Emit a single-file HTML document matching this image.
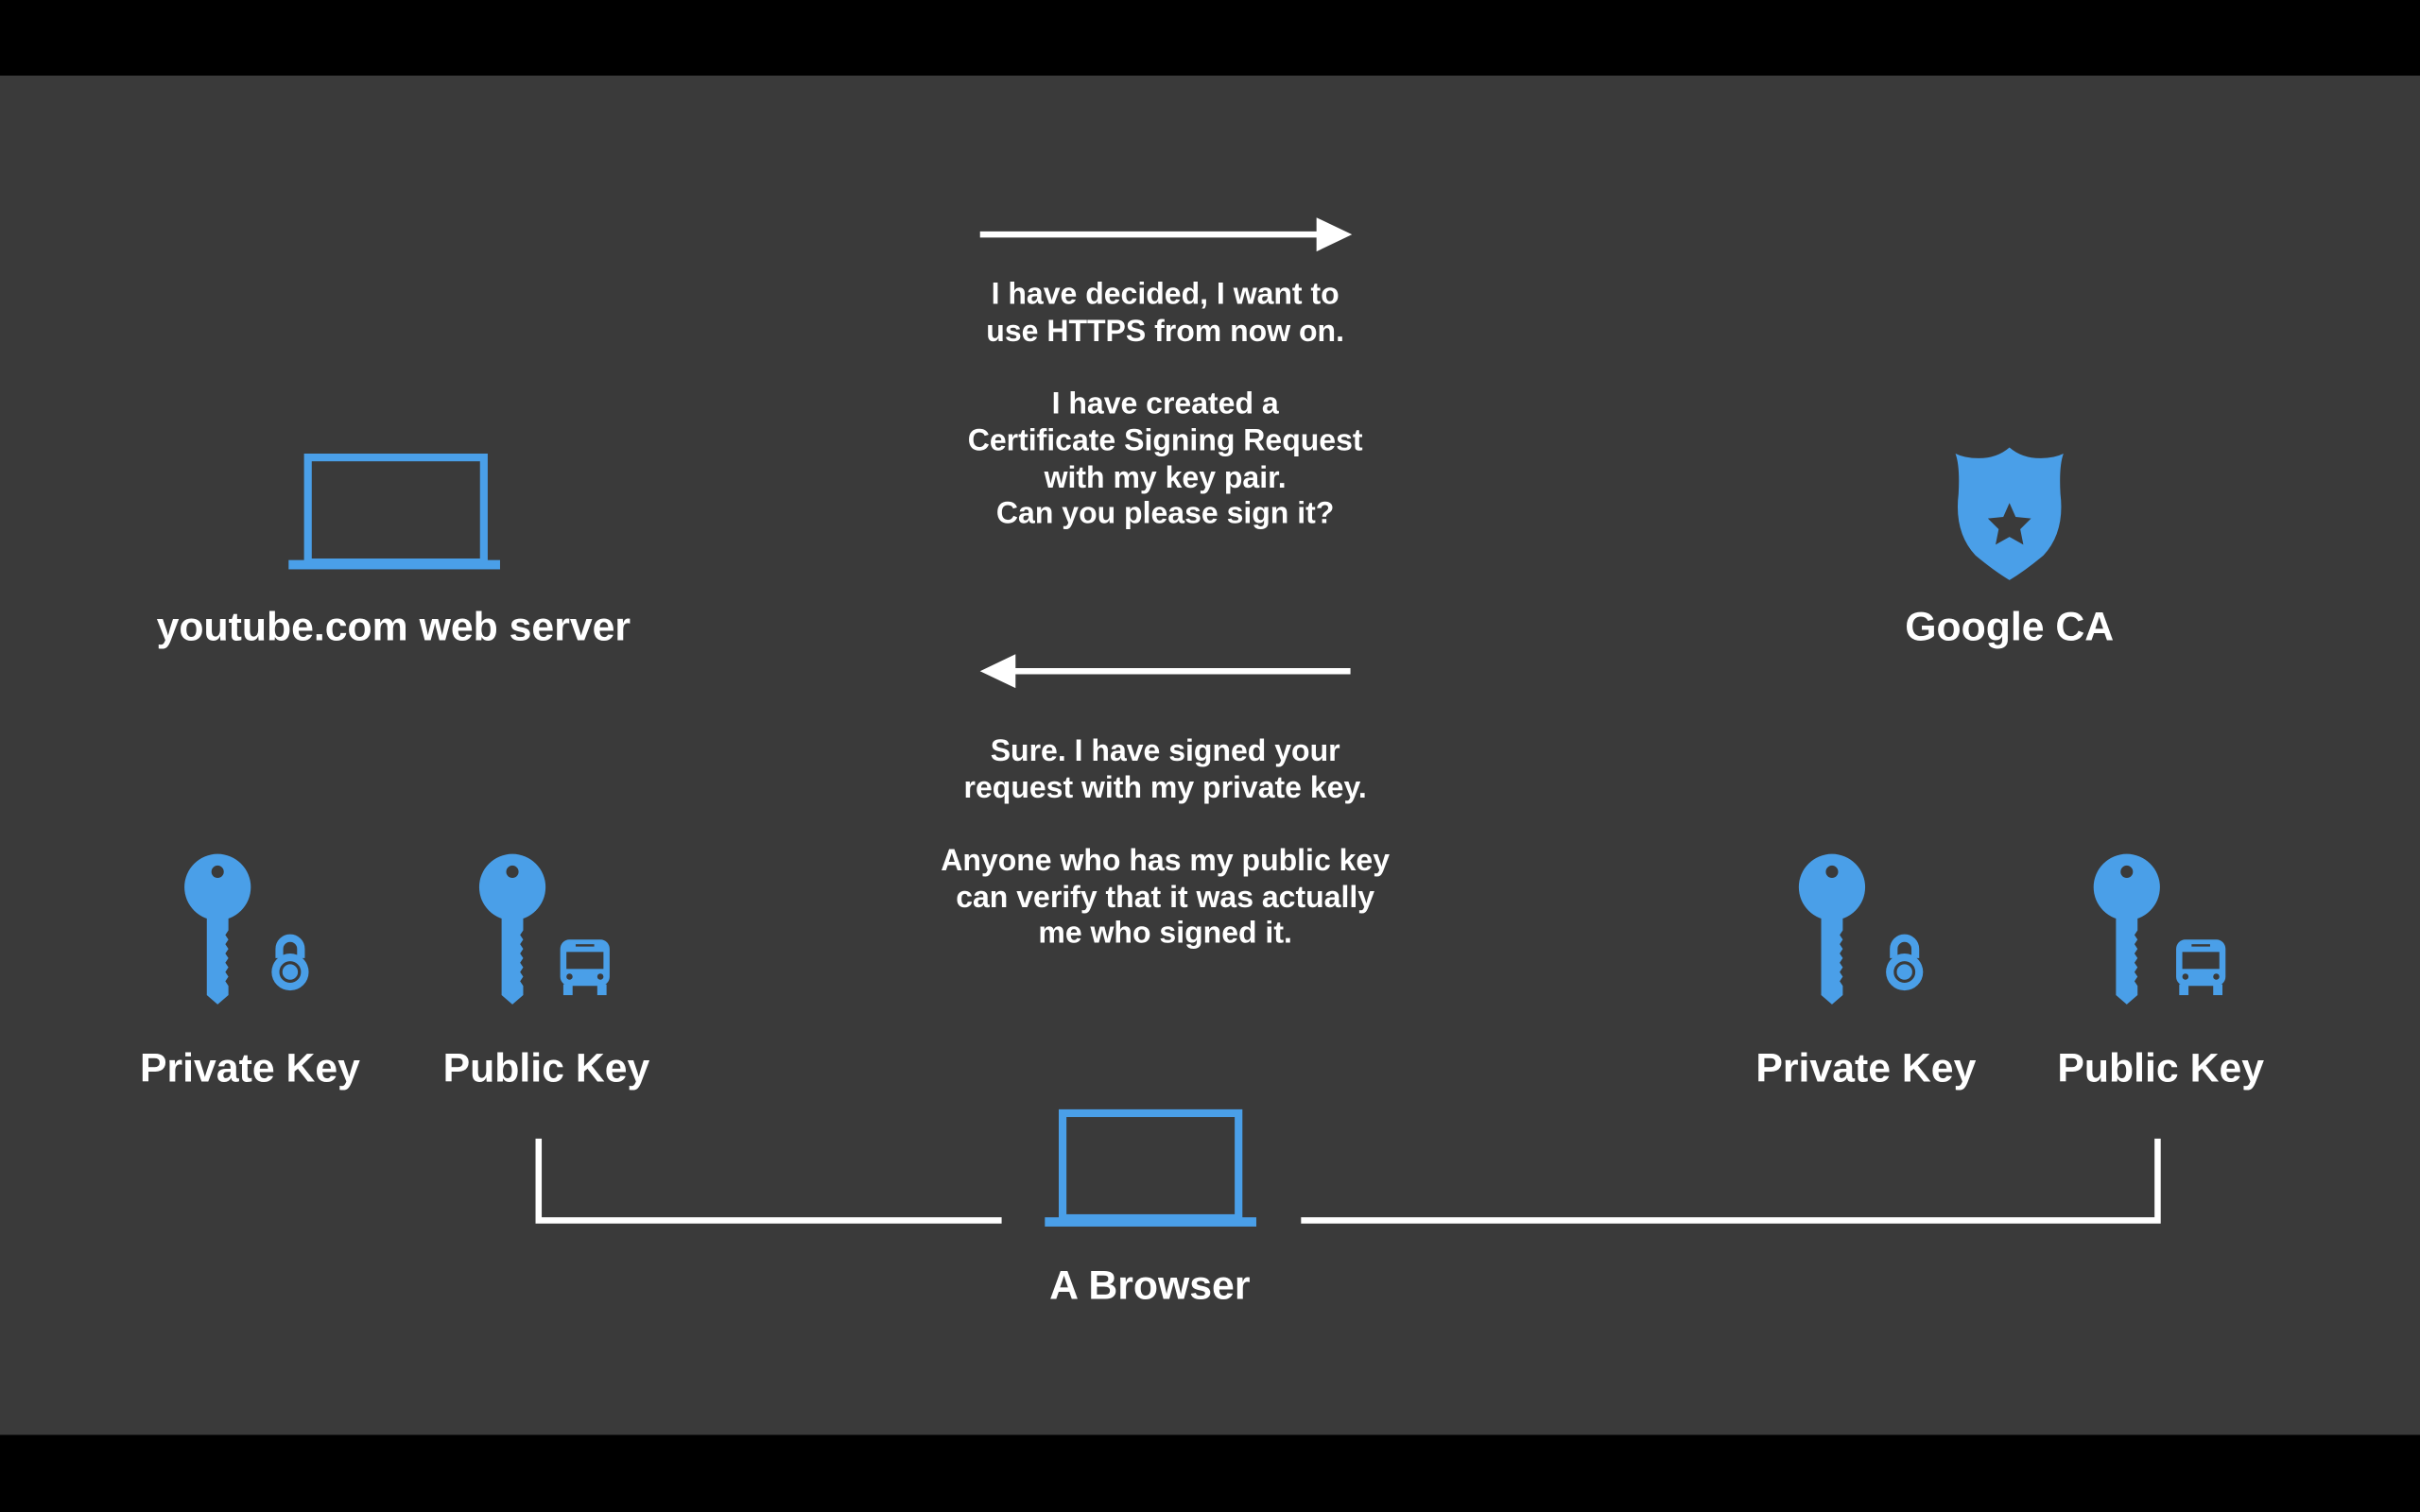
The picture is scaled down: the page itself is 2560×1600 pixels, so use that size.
<!DOCTYPE html>
<html><head><meta charset="utf-8"><style>
html,body{margin:0;padding:0;background:#000;}
svg{display:block;}
text{font-family:"Liberation Sans",Arial,sans-serif;font-weight:bold;fill:#fff;text-anchor:middle;}
</style></head><body>
<svg width="2560" height="1600" viewBox="0 0 1568 980" preserveAspectRatio="none">
<defs>
<g id="key">
<circle cx="0" cy="0" r="21.5" fill="#4a9fe8"/>
<circle cx="0" cy="-10" r="4" fill="#3a3a3a"/>
<path d="M-7,15 L-7,70 L0,76 L7,70 L7,64 L5,61 L7,58 L5,55 L7,52 L5,49 L7,46 L5,43 L7,40 L5,37 L7,34 L5,31 L7,28 L7,15 Z" fill="#4a9fe8"/>
</g>
<g id="lock">
<path d="M-7,-4 L-7,-10 A7,7 0 0 1 7,-10 L7,-4" fill="none" stroke="#4a9fe8" stroke-width="5"/>
<circle cx="0" cy="5" r="12" fill="#4a9fe8"/>
<circle cx="0" cy="5" r="6" fill="none" stroke="#3a3a3a" stroke-width="2"/>
</g>
<g id="bus">
<rect x="-16" y="-18" width="32" height="30" rx="6" fill="#4a9fe8"/>
<rect x="-12" y="-10" width="24" height="11" fill="#3a3a3a"/>
<rect x="-6" y="-15" width="12" height="1.5" fill="#3a3a3a"/>
<circle cx="-10" cy="6" r="2" fill="#3a3a3a"/>
<circle cx="10" cy="6" r="2" fill="#3a3a3a"/>
<rect x="-14" y="11" width="6" height="7" fill="#4a9fe8"/>
<rect x="8" y="11" width="6" height="7" fill="#4a9fe8"/>
</g>
</defs>
<rect x="0" y="49" width="1568" height="881" fill="#3a3a3a"/>

<rect x="199.5" y="296.5" width="114" height="68" fill="none" stroke="#4a9fe8" stroke-width="5"/>
<rect x="187" y="363" width="137" height="6" fill="#4a9fe8"/>
<rect x="688.5" y="721.5" width="114" height="68" fill="none" stroke="#4a9fe8" stroke-width="5"/>
<rect x="677" y="789" width="137" height="6" fill="#4a9fe8"/>

<path d="M1302,290 Q1294,297 1282,297 Q1273,297 1267,294 Q1270,302 1269,320 Q1266,345 1280,360 Q1292,370 1302,376 Q1312,370 1324,360 Q1338,345 1335,320 Q1334,302 1337,294 Q1331,297 1322,297 Q1310,297 1302,290 Z" fill="#4a9fe8"/>
<polygon points="1302,326 1306,335 1316,336 1309,343 1311,353 1302,348 1293,353 1295,343 1288,336 1298,335" fill="#3a3a3a"/>

<use href="#key" x="141" y="575"/><use href="#lock" x="188" y="625"/>
<use href="#key" x="332" y="575"/><use href="#bus" x="379" y="627"/>
<use href="#key" x="1187" y="575"/><use href="#lock" x="1234" y="625"/>
<use href="#key" x="1378" y="575"/><use href="#bus" x="1426" y="627"/>

<line x1="635" y1="152" x2="858" y2="152" stroke="#fff" stroke-width="4"/>
<polygon points="853,141 876,152 853,163" fill="#fff"/>
<line x1="652" y1="435" x2="875" y2="435" stroke="#fff" stroke-width="4"/>
<polygon points="658,424 635,435 658,446" fill="#fff"/>

<polyline points="349,738 349,791 649,791" fill="none" stroke="#fff" stroke-width="4"/>
<polyline points="843,791 1398,791 1398,738" fill="none" stroke="#fff" stroke-width="4"/>

<g font-size="26.2">
<text x="255" y="415">youtube.com web server</text>
<text x="1302" y="415">Google CA</text>
<text x="162" y="701">Private Key</text>
<text x="354" y="701">Public Key</text>
<text x="1209" y="701">Private Key</text>
<text x="1400" y="701">Public Key</text>
<text x="745" y="842">A Browser</text>
</g>

<g font-size="19.6">
<text x="755" y="197">I have decided, I want to</text>
<text x="755" y="221">use HTTPS from now on.</text>
<text x="755" y="268">I have created a</text>
<text x="755" y="292">Certificate Signing Request</text>
<text x="755" y="316">with my key pair.</text>
<text x="755" y="339">Can you please sign it?</text>
<text x="755" y="493">Sure. I have signed your</text>
<text x="755" y="517">request with my private key.</text>
<text x="755" y="564">Anyone who has my public key</text>
<text x="755" y="588">can verify that it was actually</text>
<text x="755" y="611">me who signed it.</text>
</g>
</svg>
</body></html>
